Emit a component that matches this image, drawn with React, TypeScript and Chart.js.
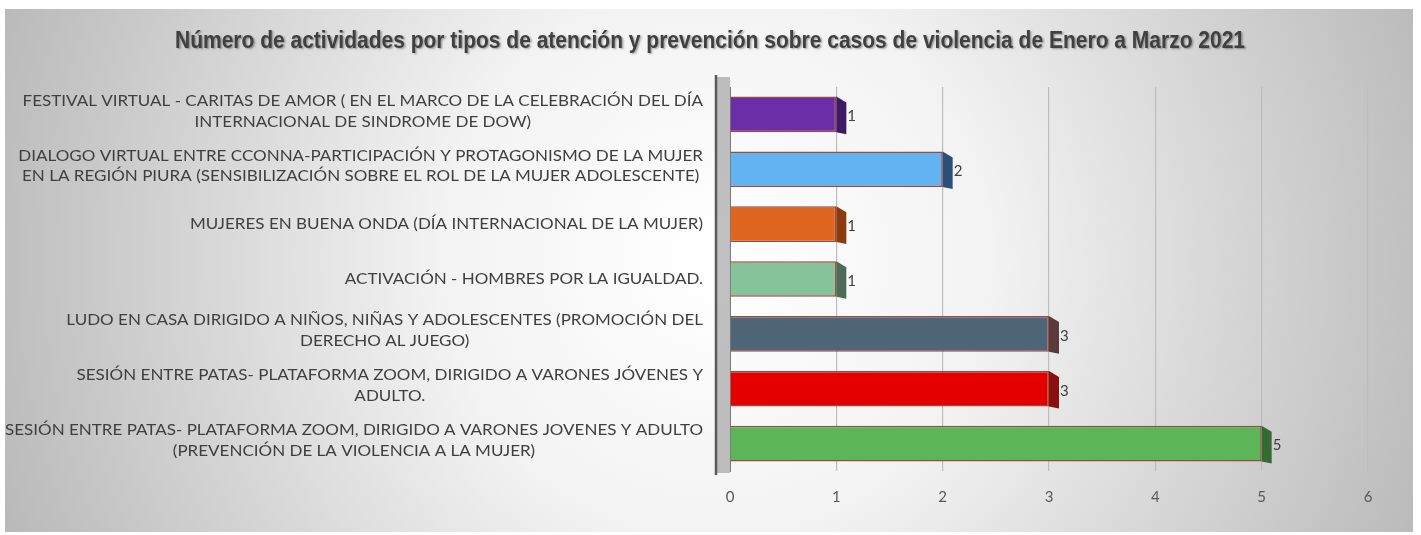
import React, { useEffect, useRef } from "react";
import { Chart, registerables } from "chart.js";

Chart.register(...registerables);

const titleText =
  "Número de actividades por tipos de atención y prevención sobre casos de violencia de Enero a Marzo 2021";

const categories: string[][] = [
  ["FESTIVAL VIRTUAL - CARITAS DE AMOR ( EN EL MARCO DE LA CELEBRACIÓN DEL DÍA", "INTERNACIONAL DE SINDROME DE DOW)"],
  ["DIALOGO VIRTUAL ENTRE CCONNA-PARTICIPACIÓN Y PROTAGONISMO DE LA MUJER", "EN LA REGIÓN PIURA (SENSIBILIZACIÓN SOBRE EL ROL DE LA MUJER ADOLESCENTE)"],
  ["MUJERES EN BUENA ONDA (DÍA INTERNACIONAL DE LA MUJER)"],
  ["ACTIVACIÓN - HOMBRES POR LA IGUALDAD."],
  ["LUDO EN CASA DIRIGIDO A NIÑOS, NIÑAS Y ADOLESCENTES (PROMOCIÓN DEL", "DERECHO AL JUEGO)"],
  ["SESIÓN ENTRE PATAS- PLATAFORMA ZOOM, DIRIGIDO A VARONES JÓVENES Y", "ADULTO."],
  ["SESIÓN ENTRE PATAS- PLATAFORMA ZOOM, DIRIGIDO A VARONES JOVENES Y ADULTO", "(PREVENCIÓN DE LA VIOLENCIA A LA MUJER)"],
];

const values: number[] = [1, 2, 1, 1, 3, 3, 5];

const barColors: string[] = ["#6a2ea6", "#62b3f2", "#e0661f", "#86c29a", "#4f6578", "#e50000", "#5db55a"];
const barEdges: string[] = ["#3d1a63", "#2c4f78", "#8a3b10", "#4d6b56", "#5a3a3a", "#8a1010", "#356b33"];

const xTicks: number[] = [0, 1, 2, 3, 4, 5, 6];

const LABEL_FONT = "15px Lato, 'Open Sans', sans-serif";
const TITLE_FONT = "bold 24px 'Liberation Sans Narrow', 'Arial Narrow', 'Liberation Sans', sans-serif";
const TEXT_COLOR = "#404040";

const decorPlugin = {
  id: "decor",
  beforeDraw(chart: any) {
    const { ctx, width, height, chartArea } = chart;
    ctx.save();
    ctx.fillStyle = "#ffffff";
    ctx.fillRect(0, 0, width, height);
    const g = ctx.createRadialGradient(715, 260, 10, 715, 260, 760);
    g.addColorStop(0, "#ffffff");
    g.addColorStop(0.35, "#f3f3f3");
    g.addColorStop(1, "#b9b9b9");
    ctx.fillStyle = g;
    ctx.fillRect(5, 9, 1408, 523);
    // left wall
    const l = chartArea.left;
    ctx.fillStyle = "rgba(140,140,140,0.55)";
    ctx.fillRect(l - 14, chartArea.top - 10, 14, chartArea.bottom - chartArea.top + 12);
    ctx.strokeStyle = "#5a5a5a";
    ctx.lineWidth = 2.5;
    ctx.beginPath();
    ctx.moveTo(l - 14, chartArea.top - 12);
    ctx.lineTo(l - 14, chartArea.bottom + 4);
    ctx.stroke();
    // title
    ctx.font = TITLE_FONT;
    const tw = ctx.measureText(titleText).width;
    const sx = 1070 / tw;
    ctx.save();
    ctx.translate(710, 41);
    ctx.scale(sx, 1);
    ctx.textAlign = "center";
    ctx.textBaseline = "middle";
    ctx.shadowColor = "rgba(0,0,0,0.35)";
    ctx.shadowOffsetX = 1.5;
    ctx.shadowOffsetY = 1.5;
    ctx.shadowBlur = 2;
    ctx.fillStyle = TEXT_COLOR;
    ctx.fillText(titleText, 0, 0);
    ctx.restore();
    ctx.restore();
  },
  afterDatasetsDraw(chart: any) {
    const { ctx } = chart;
    const meta = chart.getDatasetMeta(0);
    const yScale = chart.scales.y;
    ctx.save();
    // 3D side faces on bars
    meta.data.forEach((bar: any, i: number) => {
      const h = bar.height;
      const top = bar.y - h / 2;
      ctx.fillStyle = barEdges[i];
      ctx.beginPath();
      ctx.moveTo(bar.x, top);
      ctx.lineTo(bar.x + 10, top + 6);
      ctx.lineTo(bar.x + 10, top + h + 2);
      ctx.lineTo(bar.x, top + h);
      ctx.closePath();
      ctx.fill();
    });
    // value labels
    ctx.fillStyle = TEXT_COLOR;
    ctx.font = "15px Lato, 'Open Sans', sans-serif";
    ctx.textAlign = "left";
    ctx.textBaseline = "middle";
    meta.data.forEach((bar: any, i: number) => {
      ctx.fillText(String(values[i]), bar.x + 11, bar.y + 2);
    });
    // category labels
    ctx.font = LABEL_FONT;
    const right = 703;
    const lineH = 20.5;
    let longest = 0;
    categories.forEach((lines) => lines.forEach((s) => (longest = Math.max(longest, ctx.measureText(s).width))));
    const sx = 698 / longest;
    categories.forEach((lines, i) => {
      const cy = yScale.getPixelForValue(i);
      const widths = lines.map((s) => ctx.measureText(s).width * sx);
      const maxW = Math.max(...widths);
      const center = right - maxW / 2;
      const startY = cy - ((lines.length - 1) * lineH) / 2 - (lines.length > 1 ? 3 : 0);
      lines.forEach((s, k) => {
        ctx.save();
        ctx.translate(center, startY + k * lineH);
        ctx.scale(sx, 1);
        ctx.textAlign = "center";
        ctx.fillStyle = "#3f3f3f";
        ctx.fillText(s, 0, 0);
        ctx.restore();
      });
    });
    ctx.restore();
  },
};

export default function App() {
  const ref = useRef<HTMLCanvasElement | null>(null);
  useEffect(() => {
    if (!ref.current) return;
    const chart = new Chart(ref.current, {
      type: "bar",
      data: {
        labels: categories.map((c) => c.join(" ")),
        datasets: [
          {
            data: values,
            backgroundColor: barColors,
            borderColor: "#9a4a40",
            borderWidth: 1.5,
            barPercentage: 0.65,
            categoryPercentage: 1,
          },
        ],
      },
      options: {
        indexAxis: "y",
        animation: false,
        responsive: false,
        maintainAspectRatio: false,
        layout: { padding: { top: 87, left: 730, right: 53, bottom: 12 } },
        plugins: {
          legend: { display: false },
          tooltip: { enabled: false },
          title: { display: false },
        },
        scales: {
          x: {
            min: 0,
            max: 6,
            afterBuildTicks: (s: any) => {
              s.ticks = xTicks.map((v) => ({ value: v }));
            },
            ticks: { color: "#595959", font: { family: "Lato, sans-serif", size: 15 }, padding: 17 },
            grid: { color: "#bdbdbd", drawTicks: false, lineWidth: 1.2 },
            border: { display: false },
          },
          y: {
            ticks: { display: false },
            grid: { display: false, drawTicks: false },
            border: { display: true, color: "#7a7a7a", width: 1 },
            afterFit: (s: any) => {
              s.width = 0;
            },
          },
        },
      },
      plugins: [decorPlugin],
    } as any);
    return () => chart.destroy();
  }, []);
  return (
    <div style={{ position: "fixed", left: 0, top: 0, width: 1421, height: 535 }}>
      <canvas ref={ref} width={1421} height={535} style={{ display: "block", width: 1421, height: 535 }} />
    </div>
  );
}
